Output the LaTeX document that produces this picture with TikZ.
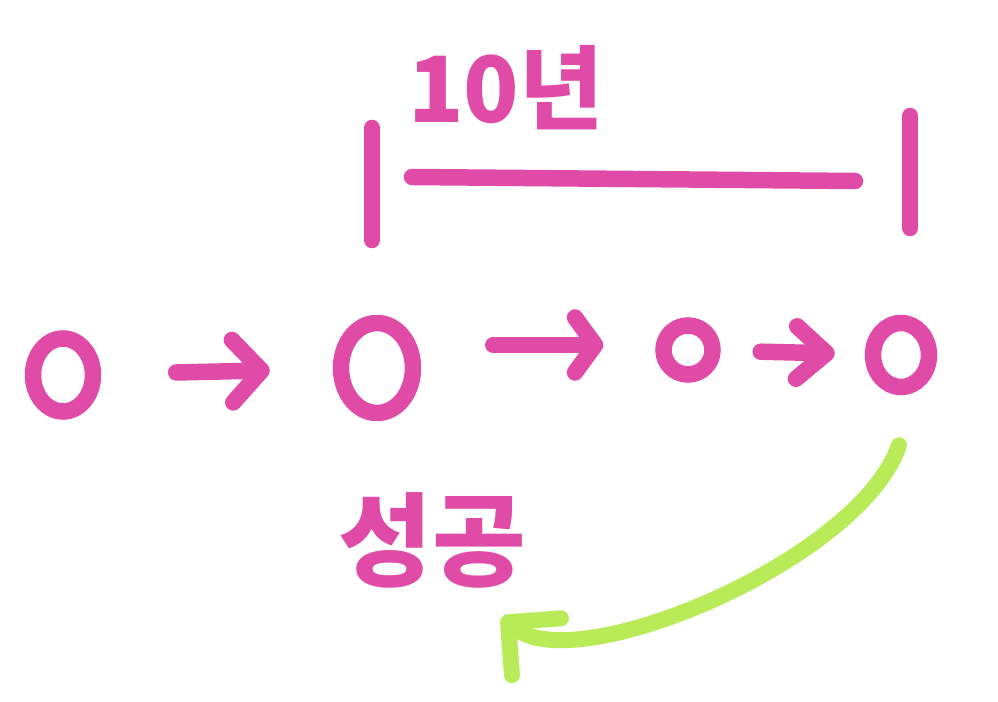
\documentclass[tikz,border=0pt]{standalone}
\usepackage{fontspec}
\newfontfamily\hangul{Noto Sans CJK KR}
\usetikzlibrary{calc,arrows.meta,shapes.geometric}
\definecolor{penpink}{HTML}{DF4BA6}
\definecolor{pengreen}{HTML}{B9EA57}
\tikzset{
	pen/.style={line width=0.33cm, color=penpink, line cap=round, line join=round},
	ring/.style={ellipse, draw=penpink, line width=0.33cm, inner sep=0pt},
	flow/.style={pen, -{Straight Barb[length=0.58cm, width=1.25cm, round]}},
	vine/.style={line width=0.32cm, color=pengreen, line cap=round, line join=round, -{Straight Barb[length=0.75cm, width=1.5cm, round]}},
	scrawl/.style={color=penpink, font=\hangul\bfseries}
}

\begin{document}
\begin{tikzpicture}[x=0.02cm, y=-0.02cm]
		%%%%% START %%%%%
		\useasboundingbox (0, 0) rectangle (998, 702);
		
		% span marker
		\coordinate (lt) at (372, 128);
		\coordinate (lb) at (372, 240);
		\coordinate (rt) at (910, 116);
		\coordinate (rb) at (910, 228);
		\coordinate (ml) at (412, 177);
		\coordinate (mr) at (855, 181);
		\draw[pen] (lt) -- (lb);
		\draw[pen] (rt) -- (rb);
		\draw[pen] (ml) -- (mr);
		\node[scrawl, font=\hangul\bfseries\fontsize{52}{52}\selectfont] (span) at (506, 88) {10년};
		
		% stages
		\node[ring, minimum width=1.2cm, minimum height=1.46cm] (s1) at (63, 375) {};
		\node[ring, minimum width=1.44cm, minimum height=1.8cm] (s2) at (377, 368) {};
		\node[ring, minimum width=0.98cm, minimum height=0.98cm] (s3) at (688, 350) {};
		\node[ring, minimum width=1.12cm, minimum height=1.28cm] (s4) at (901, 355) {};
		
		\draw[flow, shorten <=1.5cm, shorten >=1.26cm] (s1) -- (s2);
		\draw[flow, -{Straight Barb[length=0.4cm, width=1.1cm, round]}] ($(s2.east)+(72, -23)$) -- ($(s3.west)+(-52, -5)$);
		\draw[flow, -{Straight Barb[length=0.6cm, width=1.05cm, round]}, shorten <=0.8cm, shorten >=0.6cm] (s3) -- (s4);
		
		% back to success
		\node[scrawl, font=\hangul\bfseries\fontsize{58}{58}\selectfont] (goal) at (432, 540) {성공};
		\coordinate (hit) at (502, 617);
		\draw[vine] ($(s4.south)+(-2, 50)$) .. controls (860, 560) and (575, 680) .. (hit);
		
		%%%%% END %%%%%
	\end{tikzpicture}
\end{document}
